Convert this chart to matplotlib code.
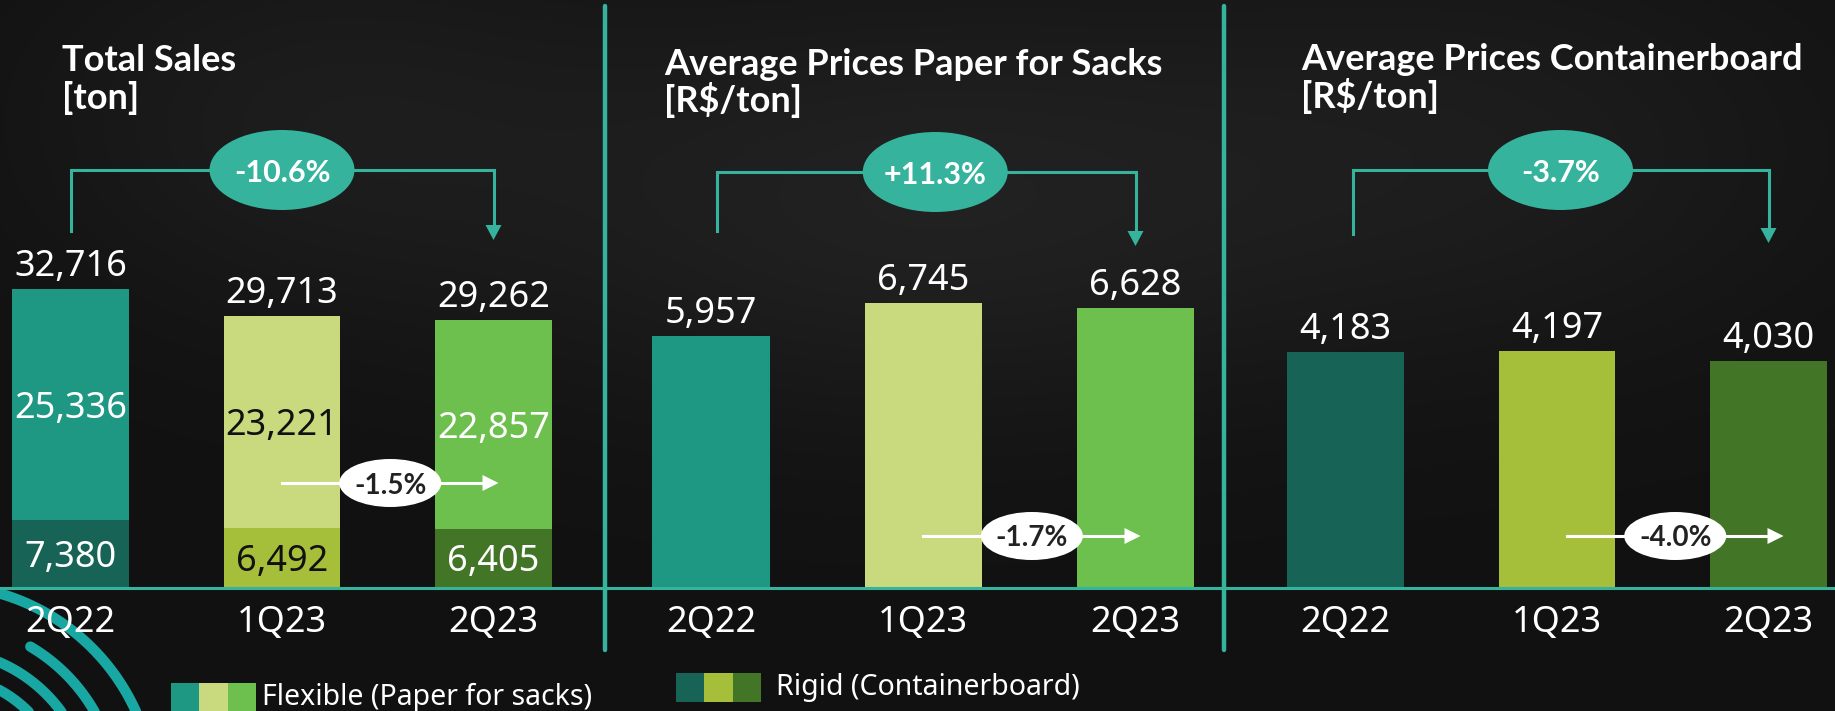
import numpy as np
import matplotlib
matplotlib.use("Agg")
import matplotlib.pyplot as plt
from matplotlib.patches import Ellipse, Rectangle, Polygon

# ---- data ----
quarters = ["2Q22", "1Q23", "2Q23"]
flexible_ton = [25336, 23221, 22857]
rigid_ton = [7380, 6492, 6405]
price_sacks = [5957, 6745, 6628]
price_container = [4183, 4197, 4030]
yoy_change = ["-10.6%", "+11.3%", "-3.7%"]
qoq_change = ["-1.5%", "-1.7%", "-4.0%"]
titles = ["Total Sales", "Average Prices Paper for Sacks", "Average Prices Containerboard"]
units = ["[ton]", "[R$/ton]", "[R$/ton]"]
legend_labels = ["Flexible (Paper for sacks)", "Rigid (Containerboard)"]

# ---- style ----
flex_colors = ["#1f9883", "#c8d97e", "#6dbf4e"]
rigid_colors = ["#176457", "#a6bf3a", "#437526"]
label_colors = ["white", "#111111", "white"]
TEAL = "#35b39d"
ARC = "#19a7a3"
BG = "#111111"
W, H = 1835, 711
BASE = 587  # baseline, pixels from top
BOLD = ["Lato", "Roboto", "DejaVu Sans"]

plt.rcParams["font.family"] = ["Noto Sans", "DejaVu Sans"]

fig = plt.figure(figsize=(W / 100, H / 100), dpi=100, facecolor=BG)

# background layer with decorative arcs
bg = fig.add_axes([0, 0, 1, 1], zorder=0)
bg.axis("off")
yy, xx = np.mgrid[0:H, 0:W]
glow = (0.06 * np.exp(-(((xx - 900) / 420) ** 2 + ((yy - 200) / 220) ** 2))
        + 0.04 * np.exp(-(((xx - 300) / 300) ** 2 + ((yy - 120) / 200) ** 2))
        + 0.04 * np.exp(-(((xx - 1500) / 380) ** 2 + ((yy - 150) / 220) ** 2)))
base_rgb = np.array([0x11, 0x11, 0x11]) / 255
img = np.clip(base_rgb[None, None, :] + glow[..., None], 0, 1)
bg.imshow(img, extent=(0, W, H, 0), aspect="auto", zorder=0)
for r, a0, a1 in [(215, 15, 85), (178, 15, 59.5), (150, 10, 80), (125, 5, 80)]:
    a = np.radians(np.linspace(a0, a1, 100))
    bg.plot(-60 + r * np.cos(a), 800 - r * np.sin(a), color=ARC, lw=7.5,
            solid_capstyle="round", zorder=1)
bg.set_xlim(0, W)
bg.set_ylim(H, 0)

# overlay layer for annotations
ov = fig.add_axes([0, 0, 1, 1], zorder=3)
ov.set_xlim(0, W)
ov.set_ylim(H, 0)
ov.axis("off")
ov.patch.set_alpha(0)

# layout of the three panels: first bar centre (px), step (px), y top limit
layout = [(70.5, 211.5, 64440), (711, 212.25, 13930), (1345.5, 211.5, 10460)]
bar_w = 0.552


def to_px(ax, x, y):
    X, Y = ax.transData.transform((x, y))
    return X, H - Y


axes = []
for c0, step, ytop in layout:
    ax = fig.add_axes([(c0 - 0.5 * step) / W, (H - BASE) / H, 3 * step / W, BASE / H], zorder=2)
    ax.set_xlim(-0.5, 2.5)
    ax.set_ylim(0, ytop)
    ax.patch.set_alpha(0)
    for s in ax.spines.values():
        s.set_visible(False)
    ax.set_yticks([])
    ax.set_xticks(range(3), quarters)
    ax.tick_params(axis="x", length=0, pad=13, labelsize=26, labelcolor="white")
    axes.append(ax)

x = np.arange(3)
# Total sales, stacked
ax = axes[0]
ax.bar(x, rigid_ton, bar_w, color=rigid_colors)
ax.bar(x, flexible_ton, bar_w, bottom=rigid_ton, color=flex_colors)
for i in range(3):
    tot = rigid_ton[i] + flexible_ton[i]
    ax.annotate(f"{tot:,}", (i, tot), xytext=(0, 9.5), textcoords="offset points",
                ha="center", va="baseline", color="white", fontsize=26)
    ax.annotate(f"{flexible_ton[i]:,}", (i, rigid_ton[i] + flexible_ton[i] / 2), xytext=(0, -9.5),
                textcoords="offset points", ha="center", va="baseline",
                color=label_colors[i], fontsize=26)
    ax.annotate(f"{rigid_ton[i]:,}", (i, rigid_ton[i] / 2), xytext=(0, -9.5),
                textcoords="offset points", ha="center", va="baseline",
                color=label_colors[i], fontsize=26)

for ax, vals, cols in [(axes[1], price_sacks, flex_colors), (axes[2], price_container, rigid_colors)]:
    ax.bar(x, vals, bar_w, color=cols)
    for i, v in enumerate(vals):
        ax.annotate(f"{v:,}", (i, v), xytext=(0, 9.5), textcoords="offset points",
                    ha="center", va="baseline", color="white", fontsize=26)

# baseline and separators
ov.plot([0, W], [588, 588], color=TEAL, lw=2.2)
for sx in [605, 1224]:
    ov.plot([sx, sx], [6, 650], color=TEAL, lw=3.2, solid_capstyle="round")

# titles
title_pos = [(62, 71, 109), (664, 75, 112), (1301, 70, 108)]
for (tx, y1, y2), t, u in zip(title_pos, titles, units):
    ov.text(tx, y1, t, color="white", fontsize=26, fontweight="bold", family=BOLD, va="baseline")
    ov.text(tx, y2, u, color="white", fontsize=26, fontweight="bold", family=BOLD, va="baseline")

# year-over-year brackets: (top, left bottom, tip, left dx, oval dx)
bracket_y = [(170, 231, 240, 0, 0), (172, 231, 246, 6, 9), (170, 234, 243, 7, 0)]
for ax, (yt, yb, tip, dxl, dxo), lab in zip(axes, bracket_y, yoy_change):
    xl, _ = to_px(ax, 0, 0)
    xr, _ = to_px(ax, 2, 0)
    xl += dxl
    ov.plot([xl, xl, xr, xr], [yb, yt, yt, tip - 14], color=TEAL, lw=2.2,
            solid_joinstyle="miter")
    ov.add_patch(Polygon([(xr - 8, tip - 15), (xr + 8, tip - 15), (xr, tip)],
                         closed=True, color=TEAL, lw=0))
    xm = (xl + xr) / 2 + dxo
    ov.add_patch(Ellipse((xm, yt), 145, 80, color=TEAL, lw=0))
    ov.text(xm, yt, lab, color="white", fontsize=22, fontweight="bold", family=BOLD,
            ha="center", va="center_baseline")

# quarter-over-quarter arrows
qoq_y = [(483, 0), (536, 0), (536, 10)]
for ax, (yq, dx), lab in zip(axes, qoq_y, qoq_change):
    x1, _ = to_px(ax, 1, 0)
    x2, _ = to_px(ax, 2, 0)
    x1 += dx
    x2 += 5 + dx
    ov.plot([x1, x2 - 14], [yq, yq], color="white", lw=2.2)
    ov.add_patch(Polygon([(x2 - 16, yq - 8), (x2 - 16, yq + 8), (x2, yq)],
                         closed=True, color="white", lw=0))
    xm = (x1 + x2) / 2
    ov.add_patch(Ellipse((xm, yq), 102, 48, color="white", lw=0))
    ov.text(xm, yq, lab, color="#222222", fontsize=20, fontweight="bold", family=BOLD,
            ha="center", va="center_baseline")

# legend
for (lx, ly, cols, lab, ty, tdx) in [(171, 683, flex_colors, legend_labels[0], 697, 91),
                                     (676, 673, rigid_colors, legend_labels[1], 688, 100)]:
    for k, c in enumerate(cols):
        ov.add_patch(Rectangle((lx + 28.3 * k, ly), 28.3, 29, color=c, lw=0))
    ov.text(lx + tdx, ty, lab, color="white", fontsize=20.5, va="center")

fig.savefig("out.png", dpi=100, facecolor=BG)
